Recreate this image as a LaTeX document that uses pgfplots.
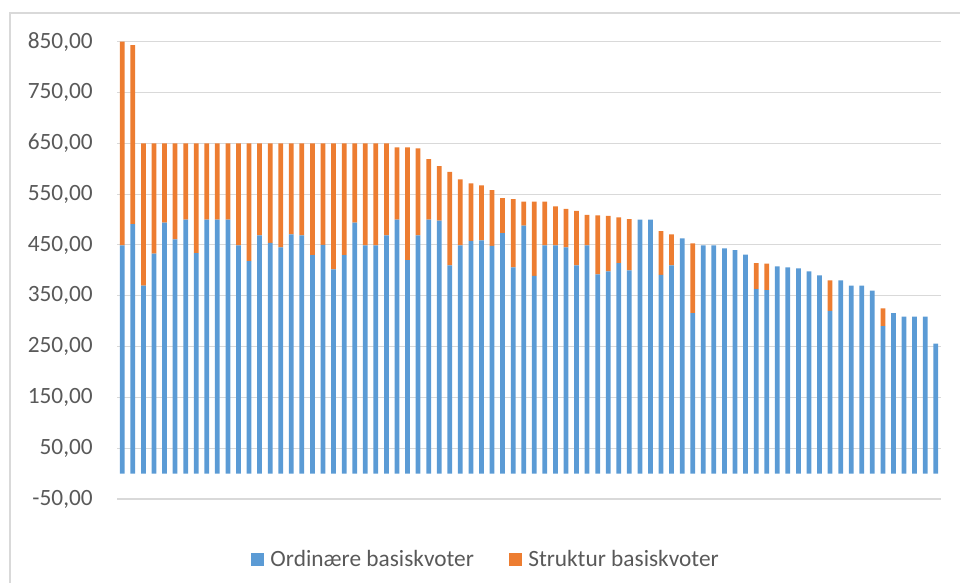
\documentclass[border=0pt]{standalone}
\usepackage{pgfplots}
\pgfplotsset{compat=1.18}
\usepackage{pgfplotstable}
\usepackage{fontspec}
\setmainfont{Carlito}

\definecolor{xlblue}{HTML}{5B9BD5}
\definecolor{xlorange}{HTML}{ED7D31}
\definecolor{xlgrid}{HTML}{D9D9D9}
\definecolor{xltext}{HTML}{595959}

% x  ordinaere  struktur
\pgfplotstableread{
x b o
1 449 401
2 491 352
3 370 280
4 433 217
5 494 156
6 461 189
7 500 150
8 434 216
9 500 150
10 500 150
11 500 150
12 449 201
13 418 232
14 469 181
15 454 196
16 445 205
17 471 179
18 469 181
19 430 220
20 450 200
21 402 248
22 430 220
23 494 156
24 449 201
25 449 201
26 469 181
27 500 142
28 420 222
29 469 171
30 500 119
31 498 107
32 410 184
33 449 130
34 458 113
35 459 108
36 448 110
37 473 69
38 406 134
39 488 47
40 389 146
41 449 86
42 449 77
43 445 76
44 410 107
45 449 60
46 392 116
47 398 109
48 414 90
49 400 101
50 500 0
51 500 0
52 391 86
53 410 61
54 463 0
55 316 137
56 449 0
57 449 0
58 443 0
59 440 0
60 431 0
61 363 51
62 361 52
63 408 0
64 406 0
65 404 0
66 398 0
67 390 0
68 320 60
69 380 0
70 370 0
71 370 0
72 360 0
73 290 35
74 316 0
75 309 0
76 309 0
77 309 0
78 256 0
}\kvoter

\begin{document}
\begin{tikzpicture}
    \useasboundingbox (0pt,0pt) rectangle (720pt,436.5pt);
    % chart border
    \draw[xlgrid, line width=0.9pt] (7.5pt,-5pt) -- (7.5pt,426.75pt) -- (730pt,426.75pt);
    \begin{axis}[
        at={(87.75pt,62.25pt)}, anchor=south west,
        scale only axis,
        width=618pt, height=343pt,
        ybar stacked,
        bar width=0.45,
        xmin=0.5, xmax=78.5,
        ymin=-50, ymax=850,
        ytick={-50,50,150,250,350,450,550,650,750,850},
        xtick=\empty,
        ymajorgrids,
        major grid style={draw=xlgrid, line width=0.85pt},
        axis line style={draw=none},
        tick style={draw=none},
        /pgf/number format/.cd, fixed, fixed zerofill, precision=2, use comma,
            assume math mode=true, 1000 sep={},
        /pgfplots/.cd,
        yticklabel style={font=\fontsize{17.5}{20}\selectfont, text=xltext,
            inner sep=0pt, xshift=-18pt},
        legend style={
            at={(0.448,-0.133)}, anchor=center,
            draw=none, fill=none,
            legend columns=2,
            font=\fontsize{17.5}{20}\selectfont,
            text=xltext,
            /tikz/every odd column/.append style={column sep=3pt},
            /tikz/every even column/.append style={column sep=24pt},
        },
        legend image code/.code={
            \fill[#1, draw=none] (0pt,-4.9pt) rectangle (9.75pt,4.85pt);
        },
    ]
        \addplot+[fill=xlblue, draw=none] table[x=x, y=b] {\kvoter};
        \addlegendentry{Ordinære basiskvoter}
        \addplot+[fill=xlorange, draw=none] table[x=x, y=o] {\kvoter};
        \addlegendentry{Struktur basiskvoter}
    \end{axis}
\end{tikzpicture}
\end{document}
